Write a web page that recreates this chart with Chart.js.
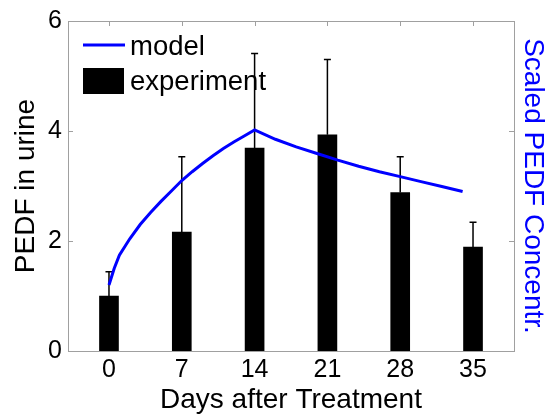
<!DOCTYPE html>
<html>
<head>
<meta charset="utf-8">
<script src="https://cdn.jsdelivr.net/npm/chart.js@4"></script>
<style>
  html, body { margin: 0; padding: 0; background: #fff; }
  #wrap { width: 550px; height: 416px; }
</style>
</head>
<body>
<div id="wrap"><canvas id="pedfChart" width="550" height="416"></canvas></div>
<script>
// measured PEDF in urine (mean + upper error) per sampling day
const days = [0, 7, 14, 21, 28, 35];
const experiment = [1.0, 2.16, 3.69, 3.93, 2.88, 1.89];
const experimentErr = [0.44, 1.37, 1.72, 1.37, 0.65, 0.45];

// model curve (scaled concentration)
const modelDays = [0, 0.5, 1, 2, 3, 4, 5, 6, 7, 8, 9, 10, 11, 12, 13, 14,
                   16, 18, 20, 22, 24, 26, 28, 30, 32, 34];
const modelVals = [1.2, 1.5, 1.74, 2.04, 2.30, 2.52, 2.72, 2.91, 3.10, 3.26, 3.41, 3.55, 3.68, 3.80, 3.91, 4.02,
                   3.85, 3.71, 3.59, 3.47, 3.36, 3.26, 3.17, 3.08, 2.99, 2.90];

const yTicks = [0, 2, 4, 6];

const FONT = 'Liberation Sans, Arial, Helvetica, sans-serif';
const FRAME = '#a0a0a0';

// error whiskers drawn right after the bars, so the model line stays on top
const errorBars = {
    id: 'errorBars',
    afterDatasetDraw(chart, args) {
        if (args.index !== 1) return;
        const { ctx, scales: { x, y } } = chart;
        ctx.save();
        ctx.strokeStyle = '#000';
        ctx.lineWidth = 1.5;
        days.forEach((d, i) => {
            const px = x.getPixelForValue(d);
            const y0 = y.getPixelForValue(experiment[i]);
            const y1 = y.getPixelForValue(experiment[i] + experimentErr[i]);
            ctx.beginPath();
            ctx.moveTo(px, y0);
            ctx.lineTo(px, y1);
            ctx.moveTo(px - 3.5, y1);
            ctx.lineTo(px + 3.5, y1);
            ctx.stroke();
        });
        ctx.restore();
    }
};

// box round the plot with inward tick marks on all four sides
const frameTicks = {
    id: 'frameTicks',
    beforeDatasetsDraw(chart) {
        const { ctx, chartArea: a, scales: { x, y } } = chart;
        const len = 5;
        ctx.save();
        ctx.strokeStyle = FRAME;
        ctx.lineWidth = 1;
        ctx.strokeRect(a.left + 0.5, a.top + 0.5, a.right - a.left, a.bottom - a.top);
        ctx.beginPath();
        days.forEach(d => {
            const px = Math.round(x.getPixelForValue(d)) + 0.5;
            ctx.moveTo(px, a.top); ctx.lineTo(px, a.top + len);
            ctx.moveTo(px, a.bottom); ctx.lineTo(px, a.bottom - len);
        });
        yTicks.forEach(v => {
            const py = Math.round(y.getPixelForValue(v)) + 0.5;
            ctx.moveTo(a.left, py); ctx.lineTo(a.left + len, py);
            ctx.moveTo(a.right, py); ctx.lineTo(a.right - len, py);
        });
        ctx.stroke();
        ctx.restore();
    }
};

// axis titles and the in-plot legend
const labels = {
    id: 'labels',
    afterDraw(chart) {
        const { ctx, chartArea: a } = chart;
        const midY = (a.top + a.bottom) / 2;
        ctx.save();
        ctx.font = '28px ' + FONT;
        ctx.fillStyle = '#000';
        ctx.textAlign = 'center';
        ctx.textBaseline = 'alphabetic';
        ctx.fillText('Days after Treatment', (a.left + a.right) / 2, 408);

        ctx.save();
        ctx.translate(34, midY);
        ctx.rotate(-Math.PI / 2);
        ctx.fillText('PEDF in urine', 0, 0);
        ctx.restore();

        ctx.save();
        ctx.fillStyle = '#0000ff';
        ctx.translate(525, midY);
        ctx.rotate(Math.PI / 2);
        ctx.fillText('Scaled PEDF Concentr.', 0, 0);
        ctx.restore();

        // legend
        ctx.font = '27.5px ' + FONT;
        ctx.textAlign = 'left';
        ctx.strokeStyle = '#0000ff';
        ctx.lineWidth = 3;
        ctx.beginPath();
        ctx.moveTo(83, 45);
        ctx.lineTo(125, 45);
        ctx.stroke();
        ctx.fillText('model', 130, 55);
        ctx.fillStyle = '#000';
        ctx.fillRect(83, 68, 41, 26);
        ctx.fillText('experiment', 130, 90);
        ctx.restore();
    }
};

new Chart(document.getElementById('pedfChart'), {
    data: {
        datasets: [
            {
                type: 'line',
                label: 'model',
                data: modelDays.map((d, i) => ({ x: d, y: modelVals[i] })),
                borderColor: '#0000ff',
                borderWidth: 3,
                pointRadius: 0,
                tension: 0,
                fill: false,
                order: 0
            },
            {
                type: 'bar',
                label: 'experiment',
                data: days.map((d, i) => ({ x: d, y: experiment[i] })),
                backgroundColor: '#000',
                borderWidth: 0,
                barThickness: 19,
                order: 1
            }
        ]
    },
    options: {
        responsive: false,
        animation: false,
        devicePixelRatio: 1,
        layout: { padding: { top: 18, right: 36, left: 0, bottom: 0 } },
        plugins: { legend: { display: false }, tooltip: { enabled: false } },
        scales: {
            x: {
                type: 'linear',
                offset: false,
                min: -3.94,
                max: 38.94,
                afterBuildTicks: scale => { scale.ticks = days.map(v => ({ value: v })); },
                afterFit: scale => { scale.height = 65; },
                grid: { display: false, drawTicks: false },
                border: { display: false },
                ticks: { color: '#000', font: { family: FONT, size: 25 }, padding: 4, maxRotation: 0 }
            },
            y: {
                min: 0,
                max: 6,
                afterBuildTicks: scale => { scale.ticks = yTicks.map(v => ({ value: v })); },
                afterFit: scale => { scale.width = 68; },
                grid: { display: false, drawTicks: false },
                border: { display: false },
                ticks: { color: '#000', font: { family: FONT, size: 25 }, padding: 6 }
            }
        }
    },
    plugins: [frameTicks, errorBars, labels]
});
</script>
</body>
</html>
